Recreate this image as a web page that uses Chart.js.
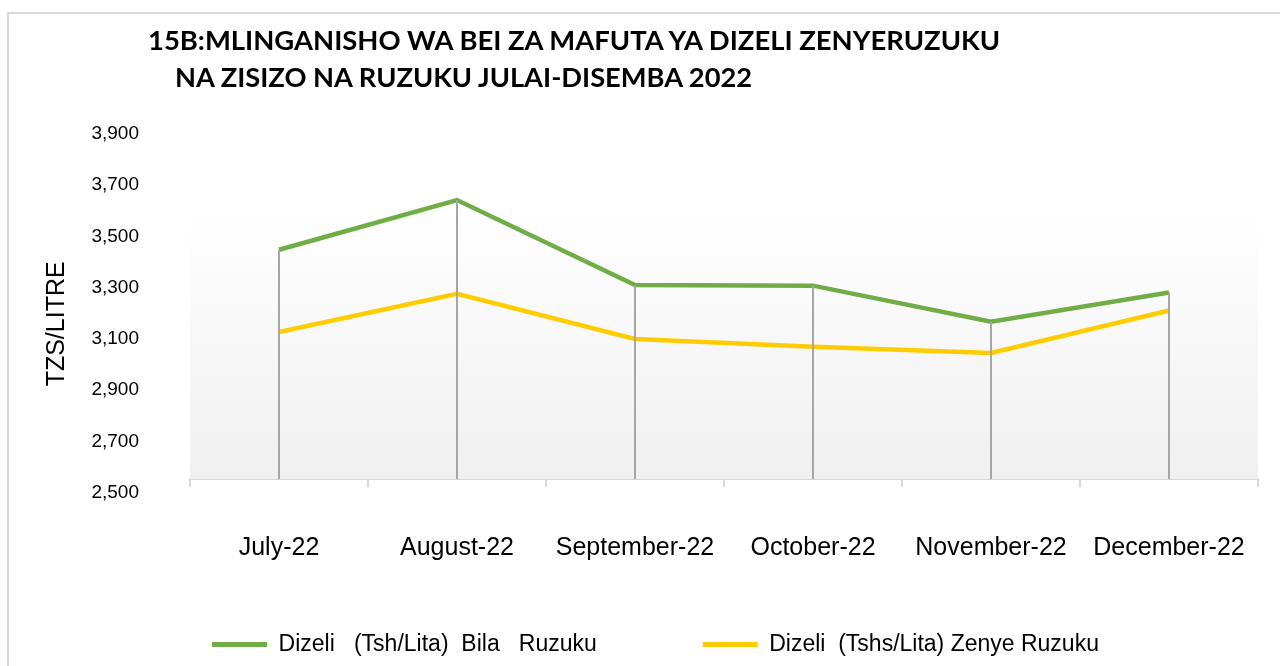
<!DOCTYPE html>
<html>
<head>
<meta charset="utf-8">
<script src="https://cdn.jsdelivr.net/npm/chart.js@4"></script>
<style>
    html, body { margin: 0; padding: 0; background: #fff; }
    #wrap { position: relative; width: 1280px; height: 666px; overflow: hidden; }
    #frame { position: absolute; left: 7px; top: 12px; width: 1300px; height: 700px; border: 2px solid #d9d9d9; box-sizing: border-box; }
    .title { position: absolute; font-family: Lato, "Liberation Sans", sans-serif; font-weight: bold; font-size: 26px; line-height: 26px; white-space: nowrap; color: #000; transform-origin: 0 0; }
    #t1 { left: 148px; top: 27px; }
    #t2 { left: 175px; top: 64px; }
    canvas { position: absolute; left: 0; top: 0; }
</style>
</head>
<body>
<div id="wrap">
    <div id="frame"></div>
    <canvas id="chart" width="1280" height="666"></canvas>
    <div class="title" id="t1" data-w="852">15B:MLINGANISHO WA BEI ZA MAFUTA YA DIZELI ZENYERUZUKU</div>
    <div class="title" id="t2" data-w="577">NA ZISIZO NA RUZUKU JULAI-DISEMBA 2022</div>
</div>
<script>
// Datos del gráfico
const months = ['July-22', 'August-22', 'September-22', 'October-22', 'November-22', 'December-22'];
const bilaRuzuku = [3448, 3642, 3310, 3308, 3167, 3281];
const zenyeRuzuku = [3127, 3276, 3100, 3069, 3045, 3211];
const yTicks = [2500, 2700, 2900, 3100, 3300, 3500, 3700, 3900];
const axisCross = 2553;   // el eje horizontal cruza un poco por encima de 2,500
const yMax = 3900;

const FONT = '"Liberation Sans", Arial, sans-serif';

// Ajustar ancho de los títulos
document.querySelectorAll('.title').forEach(el => {
    const target = +el.dataset.w;
    const w = el.scrollWidth;
    el.style.transform = `scaleX(${target / w})`;
});

// Fondo degradado del área de trazado
const plotBackground = {
    id: 'plotBackground',
    beforeDatasetsDraw(chart) {
        const {ctx, chartArea: a} = chart;
        const g = ctx.createLinearGradient(0, a.top, 0, a.bottom);
        g.addColorStop(0, '#ffffff');
        g.addColorStop(0.22, '#ffffff');
        g.addColorStop(1, '#f0f0f0');
        ctx.save();
        ctx.fillStyle = g;
        ctx.fillRect(a.left, a.top, a.right - a.left, a.bottom - a.top);
        ctx.restore();
    }
};

// Líneas verticales desde el punto más alto hasta el eje
const dropLines = {
    id: 'dropLines',
    afterDatasetsDraw(chart) {
        const {ctx, chartArea: a, scales: {x, y}} = chart;
        ctx.save();
        ctx.strokeStyle = '#a6a6a6';
        ctx.lineWidth = 2;
        months.forEach((m, i) => {
            const top = Math.max(bilaRuzuku[i], zenyeRuzuku[i]);
            const px = Math.round(x.getPixelForValue(i));
            ctx.beginPath();
            ctx.moveTo(px, y.getPixelForValue(top));
            ctx.lineTo(px, a.bottom);
            ctx.stroke();
        });
        ctx.restore();
    }
};

new Chart(document.getElementById('chart'), {
    type: 'line',
    data: {
        labels: months,
        datasets: [
            {
                // los espacios finales separan las dos entradas de la leyenda
                label: 'Dizeli   (Tsh/Lita)  Bila   Ruzuku      ',
                data: bilaRuzuku,
                borderColor: '#70ad47',
                backgroundColor: '#70ad47',
                borderWidth: 4.5,
                pointRadius: 0,
                tension: 0
            },
            {
                label: 'Dizeli  (Tshs/Lita) Zenye Ruzuku',
                data: zenyeRuzuku,
                borderColor: '#ffcc00',
                backgroundColor: '#ffcc00',
                borderWidth: 4.5,
                pointRadius: 0,
                tension: 0
            }
        ]
    },
    options: {
        responsive: false,
        animation: false,
        layout: { padding: { left: 53, right: 22, top: 134, bottom: 0 } },
        scales: {
            x: {
                offset: true,
                grid: {
                    display: true,
                    offset: true,
                    drawOnChartArea: false,
                    drawTicks: true,
                    tickLength: 8,
                    color: '#d9d9d9',
                    lineWidth: 2
                },
                border: { display: true, color: '#d9d9d9', width: 2 },
                ticks: {
                    padding: 46,
                    maxRotation: 0,
                    autoSkip: false,
                    color: '#000',
                    font: { family: FONT, size: 25 }
                },
                afterFit: (scale) => {
                    scale.height = 86.5;
                    scale.paddingLeft = 0;
                    scale.paddingRight = 0;
                }
            },
            y: {
                min: axisCross,
                max: yMax,
                grid: { display: false, drawTicks: false },
                border: { display: false },
                ticks: {
                    padding: 51,
                    color: '#000',
                    font: { family: FONT, size: 19 },
                    callback: (v) => v.toLocaleString('en-US')
                },
                afterBuildTicks: (scale) => {
                    scale.ticks = yTicks.map(v => ({ value: v }));
                },
                title: {
                    display: true,
                    text: 'TZS/LITRE     ',
                    color: '#000',
                    padding: { top: -11, bottom: 0 },
                    font: { family: FONT, size: 25 }
                },
                afterFit: (scale) => { scale.width = 137; }
            }
        },
        plugins: {
            legend: {
                position: 'bottom',
                labels: {
                    boxWidth: 55,
                    boxHeight: 5,
                    padding: 67.5,
                    color: '#000',
                    font: { family: FONT, size: 23 },
                    generateLabels: (chart) => {
                        const items = Chart.defaults.plugins.legend.labels.generateLabels(chart);
                        items.forEach(it => { it.fillStyle = it.strokeStyle; it.lineWidth = 0; });
                        return items;
                    }
                }
            },
            tooltip: { enabled: false }
        }
    },
    plugins: [plotBackground, dropLines]
});
</script>
</body>
</html>
